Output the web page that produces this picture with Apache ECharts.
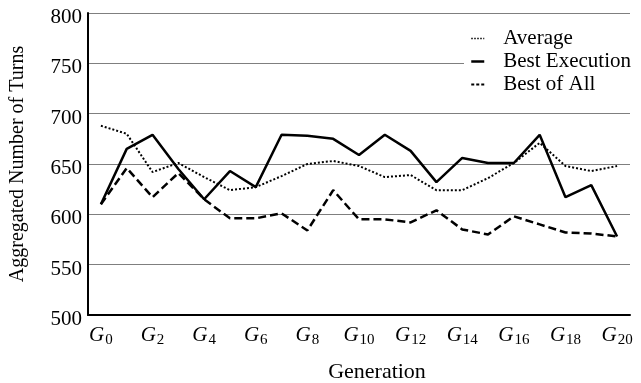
<!DOCTYPE html>
<html>
<head>
<meta charset="utf-8">
<script src="https://cdn.jsdelivr.net/npm/echarts@6/dist/echarts.min.js"></script>
<style>
  html, body { margin: 0; padding: 0; background: #fff; }
  #chart { width: 641px; height: 383px; }
</style>
</head>
<body>
<div id="chart"></div>
<script>
const chart = echarts.init(document.getElementById('chart'))

const generations = ['0','1','2','3','4','5','6','7','8','9','10','11','12','13','14','15','16','17','18','19','20']
const average = [688, 680, 642, 651, 637, 624, 627, 638, 650, 653, 648, 637, 639, 624, 624, 636, 651, 671, 648, 643, 648]
const bestExecution = [610, 665, 679, 645, 615, 643, 627, 679, 678, 675, 659, 679, 663, 632, 656, 651, 651, 679, 617, 629, 578]
const bestOfAll = [610, 646, 617, 641, 615, 596, 596, 601, 584, 624, 595, 595, 592, 604, 585, 580, 598, 590, 582, 581, 578]

const font = '"Liberation Serif", "DejaVu Serif", serif'

let option = {
  backgroundColor: '#fff',
  animation: false,
  textStyle: { fontFamily: font, color: '#000' },
  grid: {
    left: 88,
    right: 11,
    top: 13,
    bottom: 68,
    outerBoundsMode: 'none'
  },
  legend: {
    orient: 'vertical',
    left: 464,
    top: 26,
    itemWidth: 13,
    itemHeight: 4,
    itemGap: 2,
    padding: [2, 14, 2, 6],
    backgroundColor: '#fff',
    itemStyle: { opacity: 0 },
    textStyle: {
      fontFamily: font,
      fontSize: 21,
      color: '#000',
      padding: [0, 0, 0, 14]
    },
    data: [
      { name: 'Average', lineStyle: { width: 1.5, type: [1.5, 1.5] } },
      { name: 'Best Execution', lineStyle: { width: 2.5 } },
      { name: 'Best of All', lineStyle: { width: 2, type: [3, 2] } }
    ]
  },
  xAxis: {
    type: 'category',
    data: generations,
    boundaryGap: true,
    name: 'Generation',
    nameLocation: 'middle',
    nameGap: 46,
    nameTextStyle: { fontFamily: font, fontSize: 22, color: '#000', padding: [0, 0, 0, 36] },
    axisLine: { lineStyle: { color: '#000', width: 2 } },
    axisTick: { show: false },
    axisLabel: {
      interval: 1,
      margin: 8,
      formatter: (v) => '{g|G}{s|' + v + '}',
      rich: {
        g: { fontFamily: font, fontStyle: 'italic', fontSize: 21, color: '#000' },
        s: { fontFamily: font, fontSize: 15, color: '#000', padding: [10, 0, 0, 1] }
      }
    },
    splitLine: { show: false }
  },
  yAxis: {
    type: 'value',
    min: 500,
    max: 800,
    interval: 50,
    name: 'Aggregated Number of Turns',
    nameLocation: 'middle',
    nameGap: 60,
    nameTextStyle: { fontFamily: font, fontSize: 20, color: '#000' },
    axisLine: { show: true, lineStyle: { color: '#000', width: 2 } },
    axisTick: { show: false },
    axisLabel: {
      margin: 6,
      formatter: (v) => '{n|' + v + '}',
      rich: {
        n: { fontFamily: font, fontSize: 21, color: '#000', padding: [9, 0, 0, 0] }
      }
    },
    splitLine: { lineStyle: { color: '#7f7f7f', width: 1 } }
  },
  series: [
    {
      name: 'Average',
      type: 'line',
      data: average,
      symbol: 'none',
      lineStyle: { color: '#000', width: 2, type: [2, 2] },
      itemStyle: { color: '#000' }
    },
    {
      name: 'Best Execution',
      type: 'line',
      data: bestExecution,
      symbol: 'none',
      lineStyle: { color: '#000', width: 2.5, type: 'solid' },
      itemStyle: { color: '#000' }
    },
    {
      name: 'Best of All',
      type: 'line',
      data: bestOfAll,
      symbol: 'none',
      lineStyle: { color: '#000', width: 2.5, type: [8, 4] },
      itemStyle: { color: '#000' }
    }
  ]
}
chart.setOption(option)
</script>
</body>
</html>
